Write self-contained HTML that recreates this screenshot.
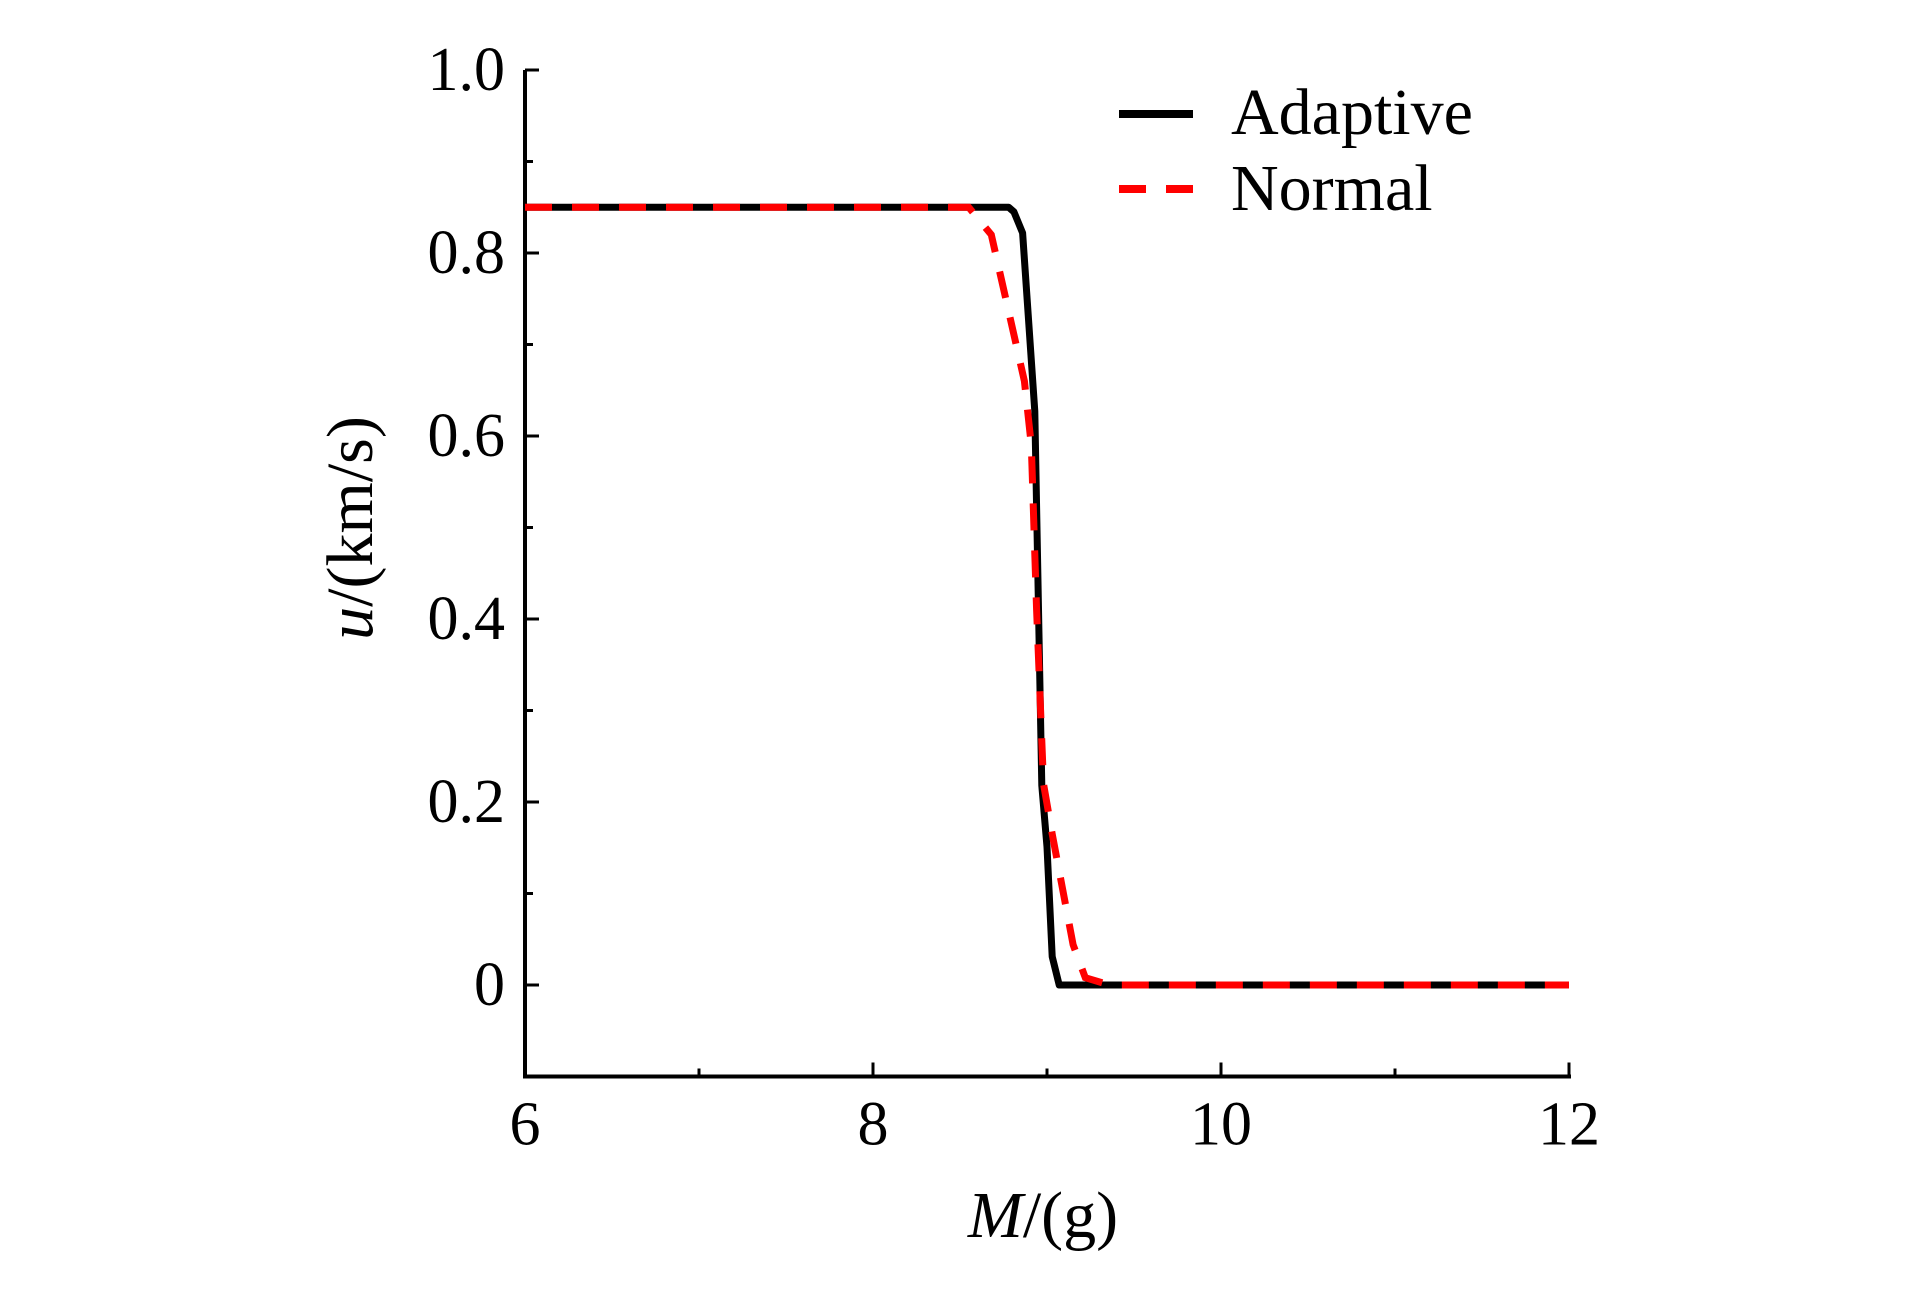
<!DOCTYPE html>
<html><head><meta charset="utf-8"><style>
body{margin:0;background:#fff}
svg{display:block}
text{font-family:"Liberation Serif",serif;fill:#000}
</style></head><body>
<svg id="chart" width="1923" height="1299" viewBox="0 0 1923 1299" xmlns="http://www.w3.org/2000/svg">
<g id="axes"></g>
<g id="series"></g>
<g id="legend">
  <line x1="1119" y1="114" x2="1193" y2="114" stroke="#000" stroke-width="8"/>
  <text x="1231" y="134" font-size="66">Adaptive</text>
  <line x1="1119" y1="189" x2="1193" y2="189" stroke="#f00" stroke-width="8" stroke-dasharray="27,20"/>
  <text x="1231" y="210" font-size="66">Normal</text>
</g>
<text x="1043" y="1237" font-size="66" text-anchor="middle"><tspan font-style="italic">M</tspan>/(g)</text>
<text transform="translate(372,528) rotate(-90)" font-size="66" text-anchor="middle"><tspan font-style="italic">u</tspan>/(km/s)</text>
</svg>
<script>
const xTicks=[6,8,10,12];
const xMinor=[7,9,11];
const yTicks=[0,0.2,0.4,0.6,0.8,1.0];
const yTickLabels=["0","0.2","0.4","0.6","0.8","1.0"];
const yMinor=[-0.1,0.1,0.3,0.5,0.7,0.9];
const adaptiveM=[6,8.78,8.81,8.86,8.93,8.97,9.0,9.03,9.07,12];
const adaptiveU=[0.85,0.85,0.845,0.822,0.627,0.218,0.151,0.031,0,0];
const normalM=[6,8.55,8.68,8.87,8.91,8.94,8.98,9.03,9.15,9.22,9.36,12];
const normalU=[0.85,0.85,0.82,0.66,0.59,0.41,0.22,0.165,0.044,0.008,0,0];

const X0=525,X1=1569,Y0=985,Y1=70;
const xs=m=>X0+(m-6)/(12-6)*(X1-X0);
const ys=u=>Y0-(u-0)/(1-0)*(Y0-Y1);
const NS="http://www.w3.org/2000/svg";
function mk(tag,attrs,parent){const e=document.createElementNS(NS,tag);for(const k in attrs)e.setAttribute(k,attrs[k]);parent.appendChild(e);return e;}
const axes=document.getElementById('axes');
const yBottom=ys(-0.1);
let a=mk('line',{x1:X0,y1:ys(1.0),x2:X0,y2:yBottom,stroke:'#000','stroke-width':4},axes);


a=mk('line',{x1:X0-2,y1:yBottom,x2:X1+2,y2:yBottom,stroke:'#000','stroke-width':4},axes);


yTicks.forEach((v,i)=>{
  const t=mk('line',{x1:X0,y1:ys(v),x2:X0+14,y2:ys(v),stroke:'#000','stroke-width':3},axes);
  
  
  const l=mk('text',{x:X0-20,y:ys(v)+20,'font-size':62,'text-anchor':'end'},axes);
  l.textContent=yTickLabels[i];
  
  
});
yMinor.forEach(v=>{
  const t=mk('line',{x1:X0,y1:ys(v),x2:X0+8,y2:ys(v),stroke:'#000','stroke-width':3},axes);
  
  
});
xTicks.forEach(v=>{
  const t=mk('line',{x1:xs(v),y1:yBottom,x2:xs(v),y2:yBottom-14,stroke:'#000','stroke-width':3},axes);
  
  
  const l=mk('text',{x:xs(v),y:yBottom+68,'font-size':62,'text-anchor':'middle'},axes);
  l.textContent=String(v);
  
  
});
xMinor.forEach(v=>{
  const t=mk('line',{x1:xs(v),y1:yBottom,x2:xs(v),y2:yBottom-8,stroke:'#000','stroke-width':3},axes);
  
  
});
const series=document.getElementById('series');
function pts(M,U){return M.map((m,i)=>xs(m).toFixed(1)+','+ys(U[i]).toFixed(1)).join(' ');}
let p=mk('polyline',{points:pts(adaptiveM,adaptiveU),fill:'none',stroke:'#000','stroke-width':7,'stroke-linejoin':'round'},series);


p=mk('polyline',{points:pts(normalM,normalU),fill:'none',stroke:'#f00','stroke-width':7,'stroke-dasharray':'27,20'},series);


</script>
</body></html>
